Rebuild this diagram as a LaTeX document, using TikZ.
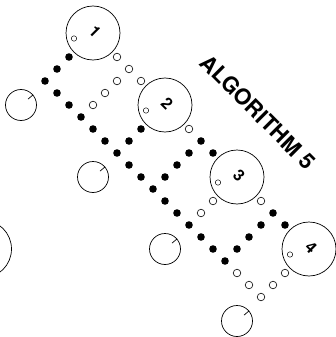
\documentclass[tikz,border=0pt]{standalone}
\usepackage{fontspec}
\setmainfont{TeX Gyre Heros}
\usetikzlibrary{calc}
\begin{document}
\begin{tikzpicture}[x=1pt,y=-1pt,
	bigring/.style={
		circle, draw, line width=0.7pt, minimum size=54pt, inner sep=0pt
	},
	clockring/.style={
		circle, draw, line width=0.7pt, minimum size=31pt, inner sep=0pt
	},
	numlabel/.style={
		font=\bfseries\fontsize{16}{16}\selectfont, rotate=-45, inner sep=0pt
	},
	blackdot/.style={fill=black},
	whitedot/.style={draw=black, fill=white, line width=0.6pt}]
	\useasboundingbox (0,0) rectangle (336,337);
	
	% Numbered rings along the diagonal
	\foreach \k/\a in {1/0,2/6,3/12,4/18}{
		\node[bigring] (ring\k) at (93+12*\a,33+12*\a) {};
		\node[numlabel] (num\k) at (95+12*\a,32+12*\a) {\k};
		\draw[line width=0.5pt] (74+12*\a,38.5+12*\a) circle[radius=2.7pt];
	}
	
	% Ring cut by the left edge
	\node[bigring, minimum size=58pt] (ring0) at (-17.5,249) {};
	
	% Small rings with a tick
	\foreach \k in {0,...,3}{
		\node[clockring] (clock\k) at (21+72*\k,105+72*\k) {};
		\draw[line width=0.7pt] (clock\k.40) -- ($(clock\k.center)!0.58!(clock\k.40)$);
	}
	
	% Black dots (a along the diagonal, b across it)
	\foreach \a/\b in {0/2,0/3,6/2,6/3,9/0,9/1,9/2,9/3,10/0,15/0,15/1,15/2,15/3,16/0}{
		\fill[blackdot] (93+12*\a-12*\b,33+12*\a+12*\b) circle[radius=3.8pt];
	}
	\foreach \a in {0,...,15}{
		\fill[blackdot] (93+12*\a-48,33+12*\a+48) circle[radius=3.8pt];
	}
	
	% Open dots
	\foreach \a/\b in {2/0,3/0,4/0,3/1,3/2,3/3,8/0,12/2,12/3,14/0,16/4,17/4,18/4,18/3,18/2}{
		\filldraw[whitedot] (93+12*\a-12*\b,33+12*\a+12*\b) circle[radius=3.8pt];
	}
	
	% Title
	\node[font=\bfseries\fontsize{22}{22}\selectfont, rotate=-45] (title) at (258,112) {ALGORITHM 5};
\end{tikzpicture}
\end{document}
